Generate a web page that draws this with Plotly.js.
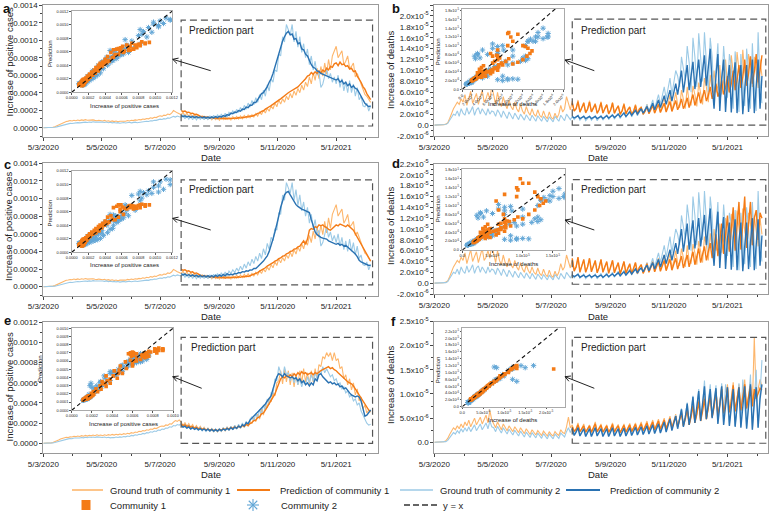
<!DOCTYPE html>
<html><head><meta charset="utf-8">
<script src="https://cdn.plot.ly/plotly-3.0.1.min.js"></script>
<style>html,body{margin:0;padding:0;background:#fff}#chart{width:770px;height:512px}</style>
</head><body><div id="chart"></div>
<script>
// ===== DATA (every 2 days from 5/3/2020; cases in 1e-6, deaths in 1e-8) =====
const startDate = [2020, 2, 5];
const stepDays = 2;
const predStart = 72;

const gtCasesAC1 = [0,0,1,2,4,6,12,22,34,46,58,66,72,
76,82,78,86,80,88,82,90,84,92,86,88,82,90,84,80,86,82,
78,84,74,80,72,78,70,76,68,74,72,78,74,82,78,86,82,90,86,94,
90,100,96,106,102,114,108,120,116,128,136,130,144,140,156,150,166,196,178,170,160,
150,176,136,168,128,158,122,150,116,140,108,134,102,128,96,122,90,116,92,
116,86,120,92,124,96,118,88,126,96,130,100,134,104,140,110,146,114,
150,122,162,132,180,150,200,168,222,188,250,214,282,240,318,
270,330,290,360,320,392,340,420,370,450,400,486,430,520,470,
580,500,630,540,680,560,700,590,740,610,780,660,820,880,
930,800,840,880,720,760,820,680,700,740,580,620,560,500,440,380,360,330,290];
const gtCasesAC2 = [0,0,0,1,2,3,6,10,16,24,32,38,44,
46,50,48,54,52,58,56,60,58,64,60,66,62,68,64,66,62,68,
64,60,66,58,62,56,60,54,58,52,56,60,54,58,62,56,60,64,58,62,
66,70,68,74,72,80,78,86,84,92,98,94,104,100,112,108,120,130,122,134,126,
120,148,104,140,98,132,92,128,90,124,
96,132,92,130,90,136,96,142,100,150,104,158,110,166,118,176,
150,192,160,210,176,232,190,256,210,282,236,312,262,344,290,
380,320,430,360,490,420,560,520,660,640,840,820,1040,980,1180,1130,1060,1180,
980,1100,920,1040,860,960,800,900,720,820,660,760,600,640,460,500,600,680,560,620,520,580,
500,600,460,560,420,520,400,540,400,500,360,460,320,360,250,240,280,190,250];
const predCasesA1 = [196,186,190,176,178,164,166,152,154,140,
132,124,128,118,122,112,118,108,114,104,112,102,110,100,108,102,110,104,112,106,116,110,120,116,126,122,
134,132,146,150,164,170,186,194,212,222,240,252,270,284,300,316,
330,350,366,384,400,414,428,440,450,466,490,512,530,560,590,
600,630,610,640,620,650,625,660,640,680,660,700,690,730,
740,710,750,720,728,700,710,670,680,640,650,590,560,520,470,440,390,360,320];
const predCasesA2 = [140,126,136,122,132,118,130,116,128,114,
126,112,124,110,122,110,124,112,128,116,132,122,140,130,150,142,
168,160,180,174,196,190,214,208,236,230,260,256,290,288,322,
350,390,400,430,470,520,560,620,700,780,860,930,990,1040,1080,1100,1060,1070,
1010,1020,960,970,900,890,840,820,760,720,690,680,650,640,620,610,600,590,580,570,560,555,
545,560,520,540,500,520,480,500,460,480,450,440,400,360,320,280,260,240,250];
const predCasesC1 = [200,186,192,176,180,164,168,150,156,140,
130,120,126,114,120,108,116,104,112,100,110,98,108,96,106,98,108,100,110,102,112,106,116,110,120,116,
124,130,140,150,160,176,186,204,214,234,244,262,272,290,298,318,
326,346,350,372,380,400,404,426,430,452,460,490,520,480,540,
640,660,650,680,670,700,690,700,680,670,650,640,660,680,
700,690,710,700,690,680,700,680,660,640,600,560,520,480,440,400,360,320,290];
const predCasesC2 = [150,130,144,124,138,120,134,116,130,112,
128,110,126,108,124,108,126,110,130,114,134,118,140,124,148,132,
140,136,150,146,160,156,170,166,180,176,190,188,206,206,226,
246,270,290,320,350,400,460,540,620,700,800,900,980,1040,1070,1080,1040,1000,
960,930,910,890,880,870,860,850,840,760,680,620,590,570,560,550,545,540,520,510,500,490,
480,490,470,480,460,470,450,440,420,400,370,340,300,280,270,260,250,240,245];
const gtCasesE1 = [0,0,1,2,4,8,14,22,32,42,50,56,60,
58,64,62,70,66,72,68,76,70,78,72,80,74,82,76,84,78,82,
76,84,78,86,80,88,82,90,84,92,86,96,90,100,94,106,100,112,108,120,
116,126,122,134,130,142,138,150,146,158,166,172,168,182,178,194,190,210,226,218,232,
210,176,206,168,196,160,186,150,176,142,168,134,160,126,150,120,146,114,138,
112,144,118,152,124,160,130,168,136,176,142,182,150,192,158,204,166,218,
196,256,214,290,240,340,280,380,350,450,410,500,470,600,620,
720,590,740,610,720,580,700,560,690,580,720,600,740,610,700,590,720,610,740,640,780,760,860,840,900,
860,900,820,900,820,840,740,760,640,680,580,640,530,600,480,540,420,460,340,380,300,330,310];
const gtCasesE2 = [0,0,0,1,2,4,8,14,20,26,32,38,42,
44,48,46,52,50,54,52,58,54,60,56,62,58,62,58,64,60,62,
58,62,56,60,54,58,56,62,58,64,60,68,64,72,68,78,74,84,80,90,
88,98,94,106,102,114,110,122,118,132,128,142,138,152,150,164,160,176,172,186,180,
196,160,190,150,180,140,172,134,166,128,158,122,152,118,148,114,146,112,144,
112,150,116,156,122,162,128,170,134,180,142,190,150,202,160,218,172,240,
262,218,296,248,336,286,380,330,440,380,500,490,640,620,760,
700,640,760,680,700,620,680,600,660,580,640,560,620,580,660,600,680,620,700,640,720,680,760,700,740,
700,660,680,620,640,580,600,540,560,500,520,460,480,420,440,380,400,320,280,240,200,180,190];
const predCasesE1 = [190,176,184,168,174,160,166,152,158,146,150,140,144,134,140,130,136,128,134,
126,138,132,144,136,150,142,156,148,162,154,168,160,176,168,186,178,196,
206,226,230,256,262,292,300,330,360,390,420,450,490,540,600,
640,660,650,670,660,680,660,690,670,700,680,710,690,700,680,690,700,680,700,690,710,720,730,740,750,
760,740,750,730,720,700,680,660,640,620,610,600,590,570,540,510,480,450,420,380,350,330,320];
const predCasesE2 = [180,160,170,150,162,142,156,138,150,134,146,130,142,126,140,124,138,122,136,
122,138,126,142,130,148,134,154,140,160,148,170,158,184,172,204,196,230,
250,262,290,300,330,350,362,390,420,450,470,540,600,660,690,
680,660,690,670,660,650,660,640,650,620,640,600,620,580,600,570,600,580,640,620,680,690,660,640,620,
600,610,590,600,580,590,560,570,540,550,520,500,480,470,460,470,460,420,340,270,280,300,330];

const gtDeathsBD1 = [0,0,1,2,4,8,20,40,
120,220,300,360,420,380,480,
420,560,360,480,620,400,500,580,380,520,640,420,480,600,460,720,
520,380,600,420,340,520,380,300,460,340,280,420,300,240,380,
260,200,340,240,180,300,200,160,280,180,140,260,160,120,240,140,110,220,130,
200,360,240,300,520,380,280,
440,250,300,460,230,340,420,220,300,450,240,320,400,210,290,430,220,310,380,200,280,420,210,300,360,190,260,400,200,290,340,180,260,380,200,300,
340,190,260,380,210,300,420,220,320,460,240,360,520,260,380,560,280,400,600,
380,320,640,460,300,700,420,360,720,560,340,780,600,380,860,700,420,920,640,
1000,600,720,1100,560,800,1200,700,600,1280,900,640,1340,1000,700,1380,960,740,1300,1100,700,1250,920,680,1200,900];
const gtDeathsBD2 = [0,0,0,1,2,4,10,30,80,
140,200,180,260,160,300,220,180,320,200,260,340,180,280,320,200,300,240,180,300,200,260,
240,160,280,220,140,260,200,120,240,180,110,220,160,100,200,150,90,190,140,80,180,130,70,170,120,70,160,110,60,150,100,60,160,110,70,180,120,80,200,140,100,
160,100,140,180,90,130,170,80,130,160,90,140,170,80,130,180,90,140,190,100,150,200,110,160,220,120,180,240,140,200,260,150,220,280,170,240,
300,200,280,380,240,340,460,300,420,560,380,520,700,480,640,860,560,780,1000,
900,700,1250,1000,820,1450,1150,600,1600,1250,700,1680,1300,800,1700,1200,600,1600,1250,
500,1000,1500,400,700,1450,900,500,1300,1100,300,1350,900,240,1300,800,350,1400,1000,300,1500,700,260,1700,800,400];
const predDeathsB1 = [400,260,300,430,240,330,400,230,290,420,240,310,380,220,280,410,220,300,370,210,270,400,220,290,350,200,260,380,210,280,330,190,250,360,200,290,
320,200,250,340,210,280,360,220,290,380,230,300,400,240,320,430,250,340,450,
280,360,480,300,380,500,320,420,560,360,460,600,400,500,640,440,540,700,480,
580,760,520,620,820,560,680,900,600,760,1000,640,820,1100,680,880,1200,720,940,1260,760,980,1300,780,1000,1280];
const predDeathsB2 = [160,130,150,170,120,140,160,120,140,160,120,140,160,120,140,160,120,150,170,130,150,180,140,170,200,150,190,220,160,210,240,180,230,270,200,260,
300,220,290,340,240,330,400,280,380,460,320,440,540,380,520,640,440,600,760,
560,820,1000,600,900,1100,640,940,1160,660,980,1200,700,1000,1280,720,1040,1400,760,
300,900,1300,260,860,1200,240,800,1100,230,820,1150,220,760,1100,200,720,1100,240,800,1200,220,700,1200,300,900];
const predDeathsD1 = [460,220,300,480,200,320,440,200,300,460,210,310,420,190,290,440,200,300,400,180,280,420,190,290,380,170,270,400,180,280,360,170,260,380,180,290,
340,180,260,360,200,280,380,210,300,400,220,320,420,230,330,440,240,340,460,
260,380,500,280,400,520,300,440,580,340,480,640,380,520,680,420,580,740,460,
700,900,500,800,1100,540,900,1250,580,1000,1400,600,1050,1500,620,1100,1600,650,1150,1500,700,1200,1350,800,1300,1200];
const predDeathsD2 = [150,120,140,160,110,130,150,110,130,150,110,130,150,110,130,150,110,140,160,120,140,170,130,160,190,140,180,210,150,200,230,170,220,260,190,250,
280,210,280,330,230,320,380,260,360,440,300,420,520,360,500,620,420,580,740,
540,800,1000,580,880,1100,620,920,1160,640,960,1200,680,980,1260,700,1020,1380,740,
320,920,1320,280,880,1220,260,820,1120,250,840,1180,240,780,1120,220,740,1120,260,820,1200,240,720,1180,320,880];
const gtDeathsF1 = [0,0,1,2,4,10,30,80,160,
220,300,260,340,280,380,300,420,340,460,320,400,500,360,440,520,380,480,560,400,660,460,
380,300,420,340,260,380,300,240,340,280,220,320,260,200,300,240,180,280,220,160,260,200,150,240,180,140,230,170,130,220,160,130,220,170,140,260,200,180,320,520,300,
360,220,280,400,210,300,380,200,280,360,200,290,420,220,300,380,210,290,360,200,280,400,210,300,370,200,290,380,210,300,390,220,310,400,230,320,
420,240,330,440,250,350,460,260,360,480,270,380,500,280,400,540,300,420,580,
320,460,640,340,500,720,360,540,800,400,600,880,440,660,960,480,700,1020,520,
760,1100,560,800,1180,600,840,1200,620,880,1240,640,900,1200,660,1000,1300,700,1000,1250,760,2180,900,1100,1300,1150];
const gtDeathsF2 = [0,0,0,1,2,5,14,40,90,
140,200,170,240,190,280,210,300,230,320,220,280,360,240,300,380,260,340,400,280,440,320,
300,220,330,260,190,300,230,170,270,210,150,250,190,130,230,170,110,210,150,100,200,140,90,190,130,80,180,120,70,170,110,70,170,120,80,190,140,110,220,300,200,
300,160,230,320,150,240,300,140,220,300,140,230,320,150,240,300,140,220,300,140,230,320,150,240,300,140,230,310,150,240,320,160,250,330,170,260,
340,180,270,360,190,290,380,200,300,400,210,320,440,230,360,500,260,400,560,
300,480,700,340,540,820,380,620,960,420,700,1100,460,760,1280,500,800,1200,520,
800,1180,400,860,1220,380,1200,820,360,800,1160,340,780,1220,320,1300,760,300,820,1400,260,900,1500,300,1000,1700];
const predDeathsF1 = [320,230,270,360,220,290,340,210,270,340,210,280,380,220,290,350,210,280,340,210,270,370,210,290,340,200,280,350,210,290,360,220,300,370,230,310,
380,240,320,400,250,340,420,260,350,440,270,360,460,280,380,500,300,400,540,
320,440,600,340,480,680,360,520,760,400,580,840,440,640,900,480,680,960,520,
720,1040,560,760,1100,600,800,1140,620,840,1180,640,860,1140,660,940,1200,700,960,1160,740,1100,900,1000,1120,1080];
const predDeathsF2 = [280,140,210,300,130,220,280,120,200,280,120,210,300,130,220,280,120,200,280,120,210,300,130,220,280,120,210,290,130,220,300,140,230,310,150,240,
320,160,250,340,170,270,360,180,280,380,190,300,420,210,340,480,240,380,540,
280,460,680,320,520,800,360,600,940,400,680,1060,440,740,1160,480,780,1100,500,
780,1120,380,820,1160,360,800,1140,340,780,1100,320,760,1140,300,740,1160,280,780,1200,260,820,1140,300,900,1200];

// tick labels
const deathTickVals = [-2e-6,0,2e-6,4e-6,6e-6,8e-6,1e-5,1.2e-5,1.4e-5,1.6e-5,1.8e-5,2e-5,2.2e-5];
const deathTickText = ['-2.0x10<sup>-6</sup>','0.0','2.0x10<sup>-6</sup>','4.0x10<sup>-6</sup>','6.0x10<sup>-6</sup>','8.0x10<sup>-6</sup>','1.0x10<sup>-5</sup>','1.2x10<sup>-5</sup>','1.4x10<sup>-5</sup>','1.6x10<sup>-5</sup>','1.8x10<sup>-5</sup>','2.0x10<sup>-5</sup>','2.2x10<sup>-5</sup>'];
const deathTickVals5 = [0,5e-6,1e-5,1.5e-5,2e-5,2.5e-5];
const deathTickText5 = ['0.0','5.0x10<sup>-6</sup>','1.0x10<sup>-5</sup>','1.5x10<sup>-5</sup>','2.0x10<sup>-5</sup>','2.5x10<sup>-5</sup>'];
const legendNames = ['Ground truth of community 1','Prediction of community 1','Ground truth of community 2','Prediction of community 2','Community 1','Community 2','y = x'];

// ===== RENDERING =====
const W = 770, H = 512;
const FONT = '"Liberation Sans", Arial, sans-serif';
const COL = {gt1:'#fdb66c', pr1:'#f47b16', gt2:'#9ccae6', pr2:'#2a72b2', sc1:'#f47b16', sc2:'#62a6d6'};
const px = x => x / W, py = y => 1 - y / H;
const dates = gtCasesAC1.map((_, i) => new Date(Date.UTC(startDate[0], startDate[1], startDate[2] + stepDays * i)).toISOString().slice(0, 10));
const predDates = dates.slice(predStart);
const CASE = 1e-6, DEATH = 1e-8;
const sc = (arr, k) => arr.map(v => v * k);

const panels = [
  {letter:'a', gt1:gtCasesAC1, gt2:gtCasesAC2, pr1:predCasesA1, pr2:predCasesA2, k:CASE, ytitle:'Increase of positive cases', ititle:'Increase of positive cases',
   main:{l:43.3,r:378.3,t:5,b:136.5}, yr:[-0.0001,0.001402], xEnd:'2021-02-18', ytick:{dtick:0.0002, minor:0.0001},
   ins:{l:71.7,r:172.3,t:11,b:92.3}, ixr:[0,0.001205], iyr:[0,0.001205], ixt:{dtick:0.0002}, iyt:{dtick:0.0002},
   box:[0.00002,0.00123], boxEnd:'2021-02-12', ptxt:[186.7,30], arrow:[210.7,70.7,172.7,59.3],
   letterPos:[7,8], ytPos:[8.5,62], datePos:[210.7,157], ipredPos:[49.5,53.5], ixPos:[124,106]},
  {letter:'b', gt1:gtDeathsBD1, gt2:gtDeathsBD2, pr1:predDeathsB1, pr2:predDeathsB2, k:DEATH, ytitle:'Increase of deaths', ititle:'Increase of deaths',
   main:{l:434.3,r:767.7,t:5,b:136}, yr:[-2.0001e-6,2.2001e-5], xEnd:'2021-02-16', ytick:{vals:deathTickVals, text:deathTickText, minor:1e-6},
   ins:{l:462.3,r:564.3,t:9,b:89.3}, ixr:[0,2.02e-5], iyr:[0,1.84e-5], ixt:{vals:deathTickVals, text:deathTickText, angle:-45}, iyt:{vals:deathTickVals, text:deathTickText},
   box:[0,1.94e-5], boxEnd:'2021-02-14', ptxt:[579,30], arrow:[594.3,70.7,565,60],
   letterPos:[396,8], ytPos:[390,70], datePos:[597.7,157], ipredPos:[437.7,51.5], ixPos:[512.5,104]},
  {letter:'c', gt1:gtCasesAC1, gt2:gtCasesAC2, pr1:predCasesC1, pr2:predCasesC2, k:CASE, ytitle:'Increase of positive cases', ititle:'Increase of positive cases',
   main:{l:43.3,r:378.3,t:163,b:295.5}, yr:[-0.0001,0.001402], xEnd:'2021-02-18', ytick:{dtick:0.0002, minor:0.0001},
   ins:{l:71.7,r:172.3,t:170.7,b:252.3}, ixr:[0,0.001205], iyr:[0,0.001205], ixt:{dtick:0.0002}, iyt:{dtick:0.0002},
   box:[0.00002,0.00121], boxEnd:'2021-02-12', ptxt:[186.7,189.3], arrow:[210.7,230,172.7,218.3],
   letterPos:[7,164], ytPos:[8.5,226.5], datePos:[210.7,316], ipredPos:[49.5,213], ixPos:[124,265]},
  {letter:'d', gt1:gtDeathsBD1, gt2:gtDeathsBD2, pr1:predDeathsD1, pr2:predDeathsD2, k:DEATH, ytitle:'Increase of deaths', ititle:'Increase of deaths',
   main:{l:434.3,r:767.7,t:164,b:294}, yr:[-2.0001e-6,2.2001e-5], xEnd:'2021-02-16', ytick:{vals:deathTickVals, text:deathTickText, minor:1e-6},
   ins:{l:462.3,r:565,t:169,b:250}, ixr:[0,1.7e-5], iyr:[0,1.82e-5], ixt:{vals:deathTickVals5, text:deathTickText5}, iyt:{vals:deathTickVals, text:deathTickText},
   box:[-0.2e-6,1.91e-5], boxEnd:'2021-02-14', ptxt:[579,189.3], arrow:[594.3,230,565,220],
   letterPos:[396,163], ytPos:[390,226], datePos:[597.7,316], ipredPos:[437.7,208.5], ixPos:[513,264]},
  {letter:'e', gt1:gtCasesE1, gt2:gtCasesE2, pr1:predCasesE1, pr2:predCasesE2, k:CASE, ytitle:'Increase of positive cases', ititle:'Increase of positive cases',
   main:{l:43.3,r:378.3,t:322.1,b:453.4}, yr:[-0.0001,0.001202], xEnd:'2021-02-18', ytick:{dtick:0.0002, minor:0.0001},
   ins:{l:71.7,r:173.3,t:328,b:410.3}, ixr:[0,0.001003], iyr:[0,0.001003], ixt:{dtick:0.0002}, iyt:{dtick:0.0001},
   box:[0,0.00105], boxEnd:'2021-02-12', ptxt:[189.3,347.3], arrow:[201.7,388.3,172.7,376.7],
   letterPos:[7,320], ytPos:[8.5,387], datePos:[210.7,474.3], ipredPos:[40,369], ixPos:[123,423.5]},
  {letter:'f', gt1:gtDeathsF1, gt2:gtDeathsF2, pr1:predDeathsF1, pr2:predDeathsF2, k:DEATH, ytitle:'Increase of deaths', ititle:'Increase of deaths',
   main:{l:434.3,r:767.7,t:321.5,b:452.9}, yr:[-2.2e-6,2.5001e-5], xEnd:'2021-02-16', ytick:{vals:deathTickVals5, text:deathTickText5, minor:2.5e-6},
   ins:{l:462.3,r:565,t:328,b:406.7}, ixr:[0,2.45e-5], iyr:[0,2.3e-5], ixt:{vals:deathTickVals5, text:deathTickText5}, iyt:{vals:deathTickVals, text:deathTickText},
   box:[-0.2e-6,2.17e-5], boxEnd:'2021-02-14', ptxt:[579,347.3], arrow:[594.3,388.3,565,376.7],
   letterPos:[394,321], ytPos:[390,385], datePos:[597.7,474], ipredPos:[438.3,370], ixPos:[512.5,420]}
];

const traces = [];
const layout = {
  width: W, height: H, margin: {l:0, r:0, t:0, b:0},
  paper_bgcolor: '#fff', plot_bgcolor: '#fff',
  font: {family: FONT, size: 8, color: '#222'},
  showlegend: false,
  shapes: [], annotations: []
};

function ann(text, x, y, o) {
  layout.annotations.push(Object.assign({text, xref:'paper', yref:'paper', x:px(x), y:py(y), showarrow:false,
    xanchor:'center', yanchor:'middle', font:{family:FONT, size:9.5, color:'#222'}}, o || {}));
}
function pline(x0, y0, x1, y1, st) {
  layout.shapes.push({type:'line', xref:'paper', yref:'paper', x0:px(x0), y0:py(y0), x1:px(x1), y1:py(y1), line:st});
}
function tickCfg(t) {
  if (t.vals) return {tickmode:'array', tickvals:t.vals, ticktext:t.text};
  return {tick0:0, dtick:t.dtick, tickformat:'.4f'};
}

panels.forEach((p, idx) => {
  const n = idx + 1, m = idx + 7;
  const xs = n === 1 ? '' : String(n);
  const xa = 'x' + xs, ya = 'y' + xs, xi = 'x' + m, yi = 'y' + m;
  const axLine = {showline:true, linecolor:'#9a9a9a', linewidth:1, mirror:true, showgrid:false, zeroline:false};

  layout['xaxis' + xs] = Object.assign({domain:[px(p.main.l), px(p.main.r)], anchor:ya, type:'date',
    range:['2020-03-05', p.xEnd], tick0:'2020-03-05', dtick:'M2', tickformat:'%-d/%-m/%Y',
    ticks:'outside', ticklen:3, tickcolor:'#444', tickfont:{size:8, color:'#222'},
    minor:{tick0:'2020-03-05', dtick:'M1', ticks:'outside', ticklen:2, tickcolor:'#444'}}, axLine);
  layout['yaxis' + xs] = Object.assign({domain:[py(p.main.b), py(p.main.t)], anchor:xa, range:p.yr,
    ticks:'outside', ticklen:3, tickcolor:'#444', tickfont:{size:8, color:'#222'},
    minor:{tick0:0, dtick:p.ytick.minor, ticks:'outside', ticklen:2, tickcolor:'#444'}}, tickCfg(p.ytick), axLine);
  layout['xaxis' + m] = Object.assign({domain:[px(p.ins.l), px(p.ins.r)], anchor:yi, range:p.ixr,
    ticks:'outside', ticklen:1.5, tickcolor:'#555', tickangle: p.ixt.angle || 0, tickfont:{size:3.9, color:'#222'}},
    tickCfg(p.ixt), axLine, {linecolor:'#aaaaaa'});
  layout['yaxis' + m] = Object.assign({domain:[py(p.ins.b), py(p.ins.t)], anchor:xi, range:p.iyr,
    ticks:'outside', ticklen:1.5, tickcolor:'#555', tickfont:{size:3.9, color:'#222'}},
    tickCfg(p.iyt), axLine, {linecolor:'#aaaaaa'});

  // time series
  traces.push({x:dates, y:sc(p.gt1, p.k), xaxis:xa, yaxis:ya, mode:'lines', line:{color:COL.gt1, width:1.1}, name:legendNames[0]});
  traces.push({x:dates, y:sc(p.gt2, p.k), xaxis:xa, yaxis:ya, mode:'lines', line:{color:COL.gt2, width:1.1}, name:legendNames[2]});
  traces.push({x:predDates, y:sc(p.pr1, p.k), xaxis:xa, yaxis:ya, mode:'lines', line:{color:COL.pr1, width:1.4}, name:legendNames[1]});
  traces.push({x:predDates, y:sc(p.pr2, p.k), xaxis:xa, yaxis:ya, mode:'lines', line:{color:COL.pr2, width:1.4}, name:legendNames[3]});

  // inset scatter: ground truth vs prediction over the prediction part
  traces.push({x:sc(p.gt2.slice(predStart), p.k), y:sc(p.pr2, p.k), xaxis:xi, yaxis:yi, mode:'markers',
    marker:{symbol:'asterisk-open', size:4.5, color:COL.sc2, line:{color:COL.sc2, width:1}}, name:legendNames[5]});
  traces.push({x:sc(p.gt1.slice(predStart), p.k), y:sc(p.pr1, p.k), xaxis:xi, yaxis:yi, mode:'markers',
    marker:{symbol:'square', size:3.6, color:COL.sc1}, name:legendNames[4]});
  const top = Math.max(p.ixr[1], p.iyr[1]);
  traces.push({x:[0, top], y:[0, top], xaxis:xi, yaxis:yi, mode:'lines', line:{color:'#111', width:1.1, dash:'4px,3px'}, name:legendNames[6]});

  // prediction part box
  layout.shapes.push({type:'rect', xref:xa, yref:ya, x0:predDates[0], x1:p.boxEnd, y0:p.box[0], y1:p.box[1],
    line:{color:'#555', width:1.2, dash:'7px,4px'}, fillcolor:'rgba(0,0,0,0)'});
  ann('Prediction part', p.ptxt[0], p.ptxt[1], {xanchor:'left', font:{family:FONT, size:10, color:'#222'}});

  // arrow (open head)
  const [tx, ty, hx, hy] = p.arrow;
  const L = Math.hypot(tx - hx, ty - hy), ux = (tx - hx) / L, uy = (ty - hy) / L;
  const ang = 28 * Math.PI / 180, bl = 6;
  pline(tx, ty, hx, hy, {color:'#222', width:1});
  [ang, -ang].forEach(a => {
    const bx = ux * Math.cos(a) - uy * Math.sin(a), by = ux * Math.sin(a) + uy * Math.cos(a);
    pline(hx, hy, hx + bl * bx, hy + bl * by, {color:'#222', width:1});
  });

  // texts
  ann('<b>' + p.letter + '</b>', p.letterPos[0], p.letterPos[1], {font:{family:FONT, size:13, color:'#111'}});
  ann(p.ytitle, p.ytPos[0], p.ytPos[1], {textangle:-90});
  ann('Date', p.datePos[0], p.datePos[1]);
  ann('Prediction', p.ipredPos[0], p.ipredPos[1], {textangle:-90, font:{family:FONT, size:6, color:'#222'}});
  ann(p.ititle, p.ixPos[0], p.ixPos[1], {font:{family:FONT, size:6, color:'#222'}});
});

// ===== shared legend (two rows under the panels) =====
const legendRows = [
  {y:490, items:[
    {kind:'line', name:0, x0:72, x1:103, color:COL.gt1, width:1.6, tx:108},
    {kind:'line', name:1, x0:237, x1:270, color:COL.pr1, width:2, tx:278},
    {kind:'line', name:2, x0:400, x1:433, color:COL.gt2, width:1.6, tx:438},
    {kind:'line', name:3, x0:566, x1:600, color:COL.pr2, width:2, tx:608}]},
  {y:505, items:[
    {kind:'square', name:4, cx:86, tx:108},
    {kind:'asterisk', name:5, cx:253, tx:279},
    {kind:'dash', name:6, x0:404, x1:438, tx:441}]}
];
legendRows.forEach(row => {
  row.items.forEach(it => {
    const y = row.y;
    if (it.kind === 'line') pline(it.x0, y, it.x1, y, {color:it.color, width:it.width});
    if (it.kind === 'dash') pline(it.x0, y, it.x1, y, {color:'#333', width:1.3, dash:'6px,3px'});
    if (it.kind === 'square') layout.shapes.push({type:'rect', xref:'paper', yref:'paper',
      x0:px(it.cx - 4.5), x1:px(it.cx + 4.5), y0:py(y + 5), y1:py(y - 5), fillcolor:COL.sc1, line:{width:0}});
    if (it.kind === 'asterisk') {
      const r = 6, d = r * Math.SQRT1_2;
      [[0, r], [r, 0], [d, d], [d, -d]].forEach(([dx, dy]) =>
        pline(it.cx - dx, y - dy, it.cx + dx, y + dy, {color:COL.sc2, width:1.1}));
    }
    ann(legendNames[it.name], it.tx, y, {xanchor:'left'});
  });
});

Plotly.newPlot('chart', traces, layout, {staticPlot:true, displayModeBar:false});
</script>
</body></html>
